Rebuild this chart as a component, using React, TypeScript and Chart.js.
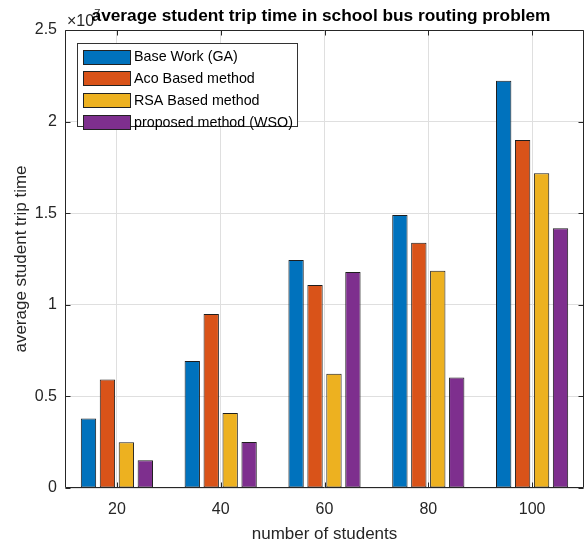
import React, { useEffect, useRef } from 'react';
import { Chart, registerables } from 'chart.js';

Chart.register(...registerables);

const categories = ['20', '40', '60', '80', '100'];
const seriesLabels = ['Base Work (GA)', 'Aco Based method', 'RSA Based method', 'proposed method (WSO)'];
const baseWorkGA = [0.38, 0.693, 1.245, 1.49, 2.223];
const acoBased = [0.592, 0.95, 1.108, 1.339, 1.9];
const rsaBased = [0.25, 0.41, 0.623, 1.186, 1.718];
const proposedWSO = [0.151, 0.251, 1.179, 0.603, 1.418];
const seriesColors = ['#0072BD', '#D95319', '#EDB120', '#7E2F8E'];
const yTickValues = [0, 0.5, 1, 1.5, 2, 2.5];
const titleText = 'average student trip time in school bus routing problem';
const xTitleText = 'number of students';
const yTitleText = 'average student trip time';
const exponentBase = '\u00d710';
const exponentPower = '7';

const FONT = '"Liberation Sans", Arial, Helvetica, sans-serif';
const AXIS_COLOR = '#262626';

const decorPlugin = {
  id: 'decor',
  afterDraw(chart: any) {
    const ctx = chart.ctx;
    const { left, right, top, bottom } = chart.chartArea;
    const xs = chart.scales.x;
    const ys = chart.scales.y;
    ctx.save();
    ctx.strokeStyle = AXIS_COLOR;
    ctx.lineWidth = 1;
    const L = Math.round(left) + 0.5;
    const R = Math.round(right) - 0.5;
    const T = Math.round(top) + 0.5;
    const B = Math.round(bottom) - 0.5;
    ctx.beginPath();
    ctx.rect(L, T, R - L, B - T);
    ctx.stroke();
    const tl = 5;
    ctx.beginPath();
    categories.forEach((_, i) => {
      const x = Math.round(xs.getPixelForValue(i)) + 0.5;
      ctx.moveTo(x, B);
      ctx.lineTo(x, B - tl);
      ctx.moveTo(x, T);
      ctx.lineTo(x, T + tl);
    });
    yTickValues.forEach((v) => {
      const y = Math.round(ys.getPixelForValue(v)) + 0.5;
      ctx.moveTo(L, y);
      ctx.lineTo(L + tl, y);
      ctx.moveTo(R, y);
      ctx.lineTo(R - tl, y);
    });
    ctx.stroke();

    // legend
    const lx = 77.5, ly = 43.5, lw = 220, lh = 83;
    ctx.fillStyle = '#ffffff';
    ctx.fillRect(lx, ly, lw, lh);
    ctx.strokeStyle = '#333333';
    ctx.strokeRect(lx, ly, lw, lh);
    ctx.font = `14.3px ${FONT}`;
    ctx.textBaseline = 'middle';
    ctx.textAlign = 'left';
    chart.data.datasets.forEach((ds: any, i: number) => {
      const cy = 57 + i * 21.7;
      ctx.fillStyle = ds.backgroundColor;
      ctx.fillRect(83, Math.round(cy - 7.5), 48, 15);
      ctx.strokeStyle = '#222222';
      ctx.strokeRect(83.5, Math.round(cy - 7.5) + 0.5, 47, 14);
      ctx.fillStyle = '#000000';
      ctx.fillText(ds.label, 134, cy + 0.5);
    });

    // axis titles
    ctx.fillStyle = AXIS_COLOR;
    ctx.font = `17px ${FONT}`;
    ctx.textAlign = 'center';
    ctx.fillText(xTitleText, (left + right) / 2, 534);
    ctx.save();
    ctx.translate(21, (top + bottom) / 2);
    ctx.rotate(-Math.PI / 2);
    ctx.fillText(yTitleText, 0, 0);
    ctx.restore();

    // exponent
    ctx.font = `16px ${FONT}`;
    ctx.textAlign = 'left';
    ctx.fillStyle = AXIS_COLOR;
    ctx.fillText(exponentBase, 67, 22);
    const w = ctx.measureText(exponentBase).width;
    ctx.font = `11px ${FONT}`;
    ctx.fillText(exponentPower, 67 + w, 14);

    // title
    ctx.font = `bold 17.3px ${FONT}`;
    ctx.textAlign = 'center';
    ctx.fillStyle = '#000000';
    ctx.fillText(titleText, 321, 16);
    ctx.restore();
  },
};

export default function App() {
  const ref = useRef<HTMLCanvasElement | null>(null);
  useEffect(() => {
    if (!ref.current) return;
    const seriesData = [baseWorkGA, acoBased, rsaBased, proposedWSO];
    const chart = new Chart(ref.current, {
      type: 'bar',
      data: {
        labels: categories,
        datasets: seriesData.map((d, i) => ({
          label: seriesLabels[i],
          data: d,
          backgroundColor: seriesColors[i],
          borderColor: '#1e1e1e',
          borderWidth: 1,
          borderSkipped: false,
          categoryPercentage: 0.73,
          barPercentage: 0.81,
        })),
      },
      options: {
        responsive: false,
        animation: false,
        layout: { padding: { top: 30, right: 3, left: 0, bottom: 0 } },
        plugins: {
          legend: { display: false },
          title: { display: false },
          tooltip: { enabled: false },
        },
        scales: {
          x: {
            afterFit: (s: any) => { s.height = 56; },
            grid: { offset: false, drawTicks: false, color: '#dfdfdf', lineWidth: 1 },
            border: { display: false },
            ticks: { font: { size: 16, family: FONT }, color: AXIS_COLOR, padding: 12 },
          },
          y: {
            min: 0,
            max: 2.5,
            afterFit: (s: any) => { s.width = 65; },
            afterBuildTicks: (s: any) => { s.ticks = yTickValues.map((v) => ({ value: v })); },
            grid: { drawTicks: false, color: '#dfdfdf', lineWidth: 1 },
            border: { display: false },
            ticks: {
              font: { size: 16, family: FONT },
              color: AXIS_COLOR,
              padding: 8,
              callback: (v: any) => String(v),
            },
          },
        },
      },
      plugins: [decorPlugin],
    });
    return () => chart.destroy();
  }, []);
  return (
    <div style={{ position: 'absolute', left: 0, top: 0, width: 587, height: 544, background: '#fff' }}>
      <canvas ref={ref} width={587} height={544} style={{ width: 587, height: 544 }} />
    </div>
  );
}
